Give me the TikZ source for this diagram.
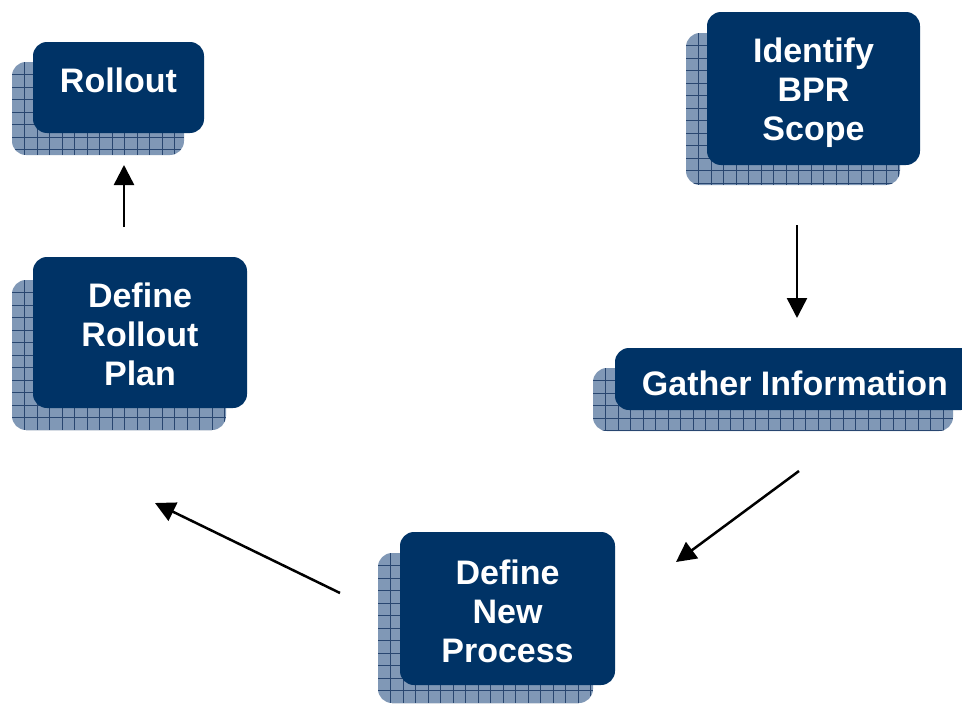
\documentclass[tikz,border=0pt]{standalone}
\usepackage{fontspec}
\setmainfont{Liberation Sans}
\usetikzlibrary{arrows.meta}

\definecolor{navy}{RGB}{0,51,102}
\definecolor{shadowblue}{RGB}{128,152,182}
\definecolor{gridblue}{RGB}{40,70,112}

\tikzset{
  cardbox/.style={fill=navy, rounded corners=14pt, text=white,
    font=\fontsize{34}{39}\selectfont\bfseries, align=center,
    inner sep=0pt, outer sep=0pt},
  shadowcard/.style={fill=shadowblue, rounded corners=14pt},
  gridline/.style={draw=gridblue, line width=1pt},
  flow/.style={draw=black, line width=2.5pt,
    -{Triangle[length=20pt,width=20pt]}}
}

% hatched backing card: x1 y1 x2 y2
\newcommand\gridcard[4]{%
  \begin{scope}
    \path[shadowcard] (#1,#2) rectangle (#3,#4);
    \clip[rounded corners=14pt] (#1,#2) rectangle (#3,#4);
    \foreach \g in {12.5,25,...,400} {
      \draw[gridline] (#1+\g,#2) -- (#1+\g,#4);
      \draw[gridline] (#1,#2+\g) -- (#3,#2+\g);
    }
  \end{scope}}

\begin{document}
\begin{tikzpicture}[x=1pt,y=-1pt]
  \clip (0,0) rectangle (962,704);
  \fill[white] (0,0) rectangle (962,704);

  % backing cards
  \gridcard{12}{62}{184}{155}
  \gridcard{12}{280}{226}{430}
  \gridcard{686}{33}{900}{185}
  \gridcard{593}{368}{953}{431}
  \gridcard{378}{553}{593}{703}

  % step cards
  \node[cardbox, minimum width=171pt, minimum height=91pt] (rollout)
    at (118.5,87.5) {\raisebox{15pt}{Rollout}};
  \node[cardbox, minimum width=214pt, minimum height=151pt] (plan)
    at (140,332.5) {\rule{0pt}{29pt}Define\\Rollout\\Plan};
  \node[cardbox, minimum width=213pt, minimum height=153pt] (scope)
    at (813.5,88.5) {\rule{0pt}{34pt}Identify\\BPR\\Scope};
  \node[cardbox, minimum width=360pt, minimum height=62pt] (gather)
    at (795,379) {\rule{0pt}{33pt}Gather Information};
  \node[cardbox, minimum width=215pt, minimum height=153pt] (newproc)
    at (507.5,608.5) {\rule{0pt}{31pt}Define\\New\\Process};

  % arrow end points
  \coordinate (scopeOut) at (797,225);
  \coordinate (gatherIn) at (797,318);
  \coordinate (gatherOut) at (799,471);
  \coordinate (newprocIn) at (676,562);
  \coordinate (newprocOut) at (340,593);
  \coordinate (planIn) at (155,503);
  \coordinate (planOut) at (124,227);
  \coordinate (rolloutIn) at (124,165);

  \draw[flow] (scopeOut) -- (gatherIn);
  \draw[flow] (gatherOut) -- (newprocIn);
  \draw[flow] (newprocOut) -- (planIn);
  \draw[flow] (planOut) -- (rolloutIn);
\end{tikzpicture}
\end{document}
